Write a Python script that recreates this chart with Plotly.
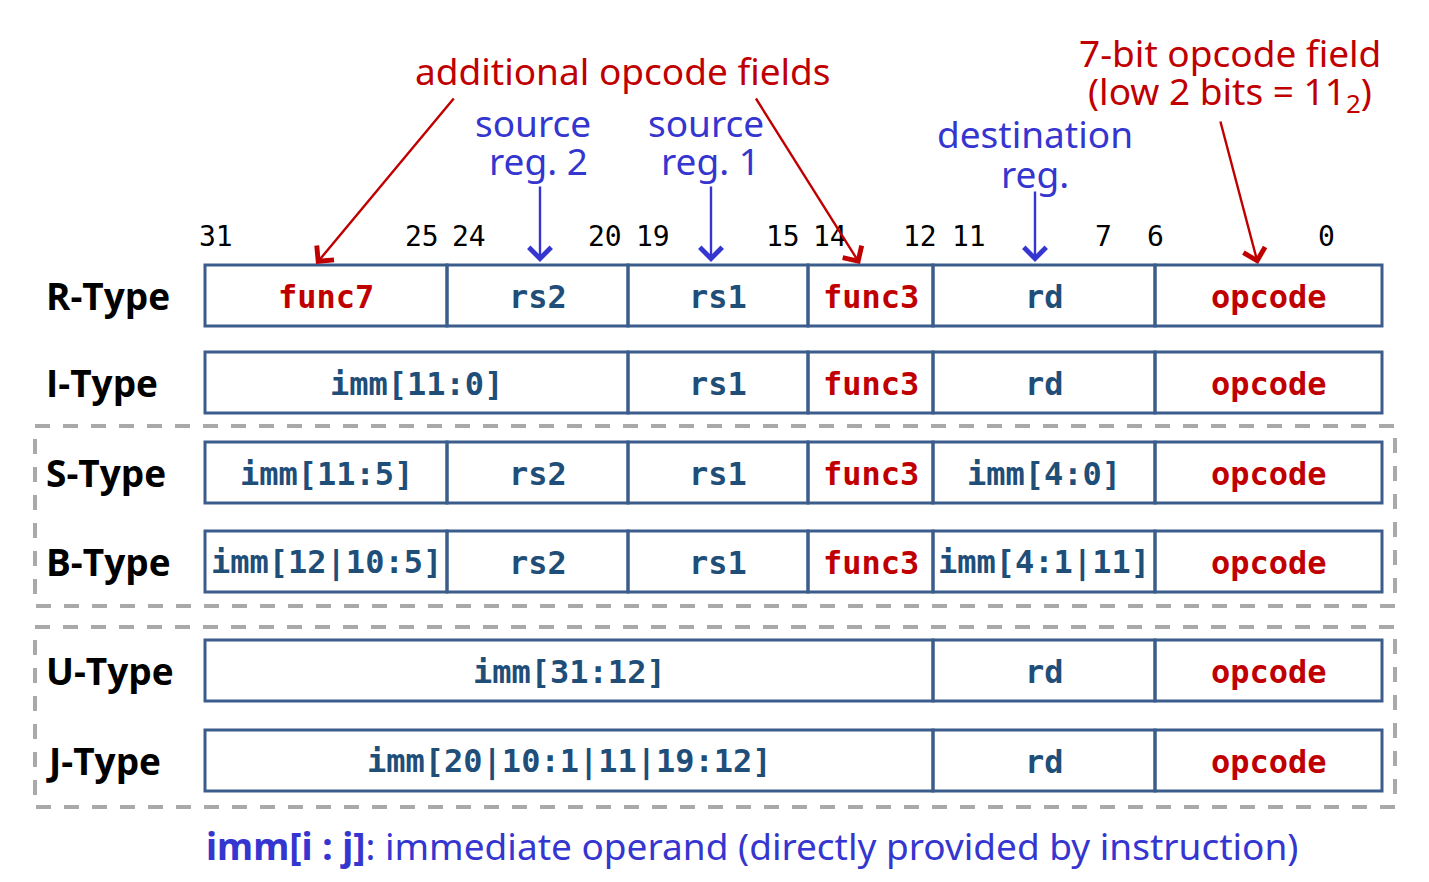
import numpy as np
import plotly.graph_objects as go

# instruction formats, top to bottom
formats = ["R-Type", "I-Type", "S-Type", "B-Type", "U-Type", "J-Type"]

# fields of every format and their bit ranges (hi, lo)
r_fields = ["func7", "rs2", "rs1", "func3", "rd", "opcode"]
r_bits = [(31, 25), (24, 20), (19, 15), (14, 12), (11, 7), (6, 0)]
i_fields = ["imm[11:0]", "rs1", "func3", "rd", "opcode"]
i_bits = [(31, 20), (19, 15), (14, 12), (11, 7), (6, 0)]
s_fields = ["imm[11:5]", "rs2", "rs1", "func3", "imm[4:0]", "opcode"]
s_bits = [(31, 25), (24, 20), (19, 15), (14, 12), (11, 7), (6, 0)]
b_fields = ["imm[12|10:5]", "rs2", "rs1", "func3", "imm[4:1|11]", "opcode"]
b_bits = [(31, 25), (24, 20), (19, 15), (14, 12), (11, 7), (6, 0)]
u_fields = ["imm[31:12]", "rd", "opcode"]
u_bits = [(31, 12), (11, 7), (6, 0)]
j_fields = ["imm[20|10:1|11|19:12]", "rd", "opcode"]
j_bits = [(31, 12), (11, 7), (6, 0)]

# fields written in red (opcode related)
red_fields = ["func7", "func3", "opcode"]

# bit numbers above the R-Type row
bit_ticks = [31, 25, 24, 20, 19, 15, 14, 12, 11, 7, 6, 0]

all_fields = [r_fields, i_fields, s_fields, b_fields, u_fields, j_fields]
all_bits = [r_bits, i_bits, s_bits, b_bits, u_bits, j_bits]

# --- layout (page pixels) ---
edge_bits = [0, 7, 12, 15, 20, 25, 32]
edge_px = [1382, 1155, 933, 808, 628, 447, 205]
row_top = [265, 352, 442, 531, 640, 730]
row_h = 61
tick_px = [216, 422, 469, 605, 653, 783, 830, 920, 969, 1103, 1155, 1326]
PAGE_OFF = 8  # the page body margin shifts the figure

RED = "#C00000"
BLUE = "#3535CF"
FIELD_BLUE = "#1F4E79"
BOX = "#3A5D8C"
MONO = "DejaVu Sans Mono"
SANS = "Noto Sans"


def bit_x(b):
    return float(np.interp(b, edge_bits, edge_px))


fig = go.Figure()
shapes = []
annotations = []

for row, (name, fields, bits) in enumerate(zip(formats, all_fields, all_bits)):
    y0 = row_top[row]
    y1 = y0 + row_h
    annotations.append(dict(
        x=44, y=(y0 + y1) / 2, text="<b>%s</b>" % name, xanchor="left",
        font=dict(family="Open Sans", size=37, color="black")))
    for label, (hi, lo) in zip(fields, bits):
        x0, x1 = bit_x(hi + 1), bit_x(lo)
        shapes.append(dict(type="rect", x0=x0, x1=x1, y0=y0, y1=y1,
                           line=dict(color=BOX, width=3)))
        color = RED if label in red_fields else FIELD_BLUE
        annotations.append(dict(
            x=(x0 + x1) / 2, y=(y0 + y1) / 2 + 1, text="<b>%s</b>" % label,
            font=dict(family=MONO, size=32, color=color)))

# dashed groups around S/B and U/J
for y0, y1 in [(426, 606), (627, 807)]:
    shapes.append(dict(type="rect", x0=35, x1=1395, y0=y0, y1=y1,
                       line=dict(color="#A9A9A9", width=4, dash="15px,13px")))

# bit numbers
for b, x in zip(bit_ticks, tick_px):
    annotations.append(dict(x=x, y=236, text=str(b),
                            font=dict(family=MONO, size=28, color="black")))

# callout texts
callouts = [
    ("additional opcode fields", 623, 70, RED),
    ("source", 533, 122, BLUE), ("reg. 2", 538, 160, BLUE),
    ("source", 706, 122, BLUE), ("reg. 1", 710, 160, BLUE),
    ("destination", 1035, 133, BLUE), ("reg.", 1035, 173, BLUE),
    ("7-bit opcode field", 1230, 52, RED),
    ("(low 2 bits = 11<sub>2</sub>)", 1230, 93, RED),
]
for text, x, y, color in callouts:
    annotations.append(dict(x=x, y=y, text=text,
                            font=dict(family=SANS, size=37, color=color)))

# arrows (tail -> head)
arrows = [
    ((455, 97), (316, 264), RED),
    ((755, 97), (860, 264), RED),
    ((1220, 120), (1258, 264), RED),
    ((540, 185), (540, 262), BLUE),
    ((711, 185), (711, 262), BLUE),
    ((1035, 190), (1035, 262), BLUE),
]
for (ax, ay), (x, y), color in arrows:
    annotations.append(dict(x=x, y=y, ax=ax, ay=ay, axref="x", ayref="y",
                            text="", showarrow=True, arrowhead=4, arrowsize=1.8,
                            arrowwidth=2.4, arrowcolor=color, standoff=0))

# footnote
annotations.append(dict(
    x=752, y=845,
    text="<b>imm[i : j]</b>: immediate operand (directly provided by instruction)",
    font=dict(family=SANS, size=37, color=BLUE)))

for a in annotations:
    a.setdefault("showarrow", False)
    a.setdefault("xref", "x")
    a.setdefault("yref", "y")

fig.update_layout(
    width=1429, height=882,
    margin=dict(l=0, r=0, t=0, b=0),
    plot_bgcolor="white", paper_bgcolor="white",
    xaxis=dict(range=[PAGE_OFF, 1429 + PAGE_OFF], visible=False, fixedrange=True),
    yaxis=dict(range=[882 + PAGE_OFF, PAGE_OFF], visible=False, fixedrange=True),
    shapes=shapes, annotations=annotations, showlegend=False,
)

fig.write_html("out.html", config={"displayModeBar": False})
